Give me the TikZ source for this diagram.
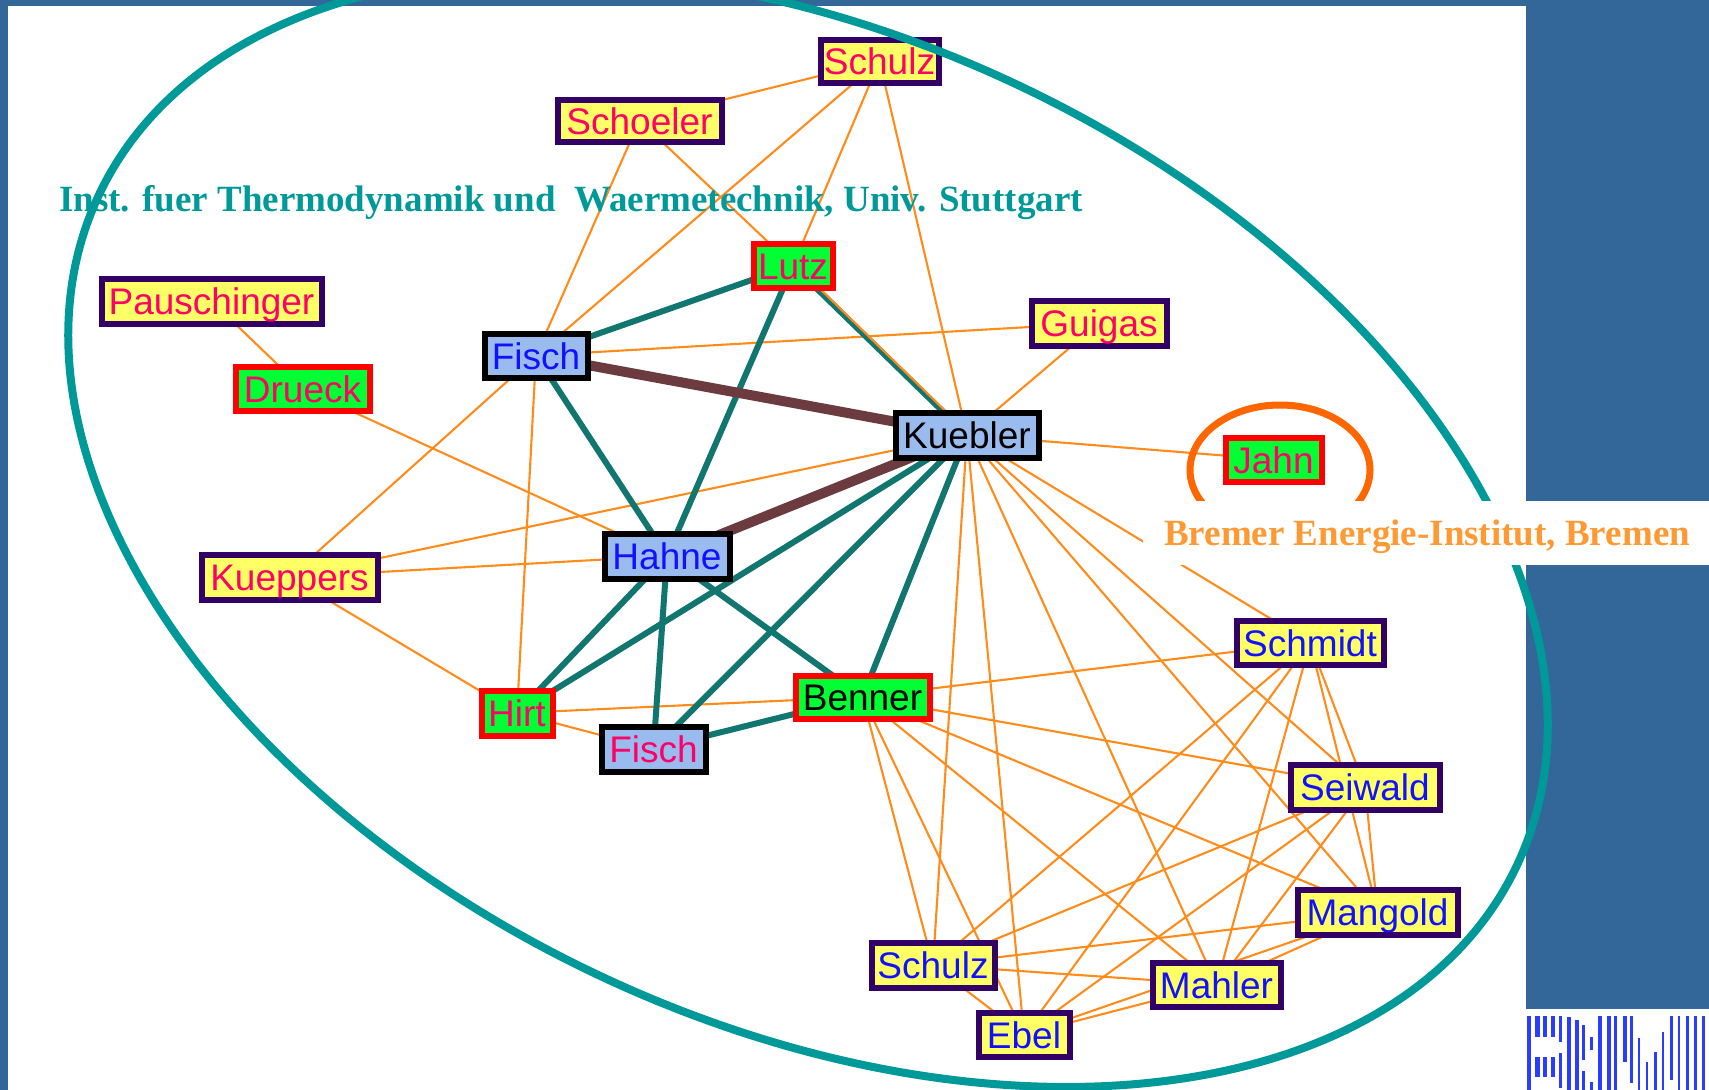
\documentclass[tikz,border=0pt]{standalone}
\usepackage{fontspec}
\setmainfont{Liberation Serif}
\setsansfont{Liberation Sans}
\usetikzlibrary{backgrounds}
\definecolor{bgblue}{HTML}{336699}
\definecolor{ringteal}{HTML}{009999}
\definecolor{edgeorange}{HTML}{FF8C1A}
\definecolor{edgeteal}{HTML}{11766F}
\definecolor{edgebrown}{HTML}{6B3B3F}
\definecolor{ringorange}{HTML}{FF6600}
\definecolor{labelorange}{HTML}{FF9933}
\definecolor{nyellow}{HTML}{FFFF66}
\definecolor{ngreen}{HTML}{00FF33}
\definecolor{nblue}{HTML}{99BBEE}
\definecolor{npurple}{HTML}{330066}
\definecolor{tmag}{HTML}{FF0066}
\definecolor{tblue}{HTML}{1111FF}
\definecolor{logoblue}{HTML}{2A3CFF}
\tikzset{
  person/.style={draw,line width=6pt,inner sep=0pt,font=\sffamily\fontsize{37}{37}\selectfont,anchor=center,text height=27pt,text depth=0pt},
  yb/.style={person,fill=nyellow,draw=npurple,text=tblue},
  ym/.style={person,fill=nyellow,draw=npurple,text=tmag},
  gm/.style={person,fill=ngreen,draw=red,text=tmag},
  gk/.style={person,fill=ngreen,draw=red,text=black},
  bb/.style={person,fill=nblue,draw=black,text=tblue},
  bk/.style={person,fill=nblue,draw=black,text=black},
  bm/.style={person,fill=nblue,draw=black,text=tmag},
  thin edge/.style={draw=edgeorange,line width=2.1pt},
  strong edge/.style={draw=edgeteal,line width=6pt},
  heavy edge/.style={draw=edgebrown,line width=10pt},
  groupring/.style={draw=ringteal,line width=8pt},
  jahnring/.style={draw=ringorange,line width=7pt},
  grouplabel/.style={font=\rmfamily\bfseries\fontsize{37}{37}\selectfont,inner sep=0pt}
}
\newcommand{\pnode}[7]{\node[#1,minimum width=#5pt-#4pt-3pt,minimum height=#7pt-#6pt-3pt] (#2) at ({(#4+#5)/2},{-(#6+#7)/2}) {#3};}
\begin{document}
\begin{tikzpicture}[x=1pt,y=1pt]
\useasboundingbox (0,0) rectangle (1709,-1090);
\clip (0,0) rectangle (1709,-1090);
% nodes
\pnode{ym}{schulzA}{Schulz}{819}{940}{38}{84}
\pnode{ym}{schoeler}{Schoeler}{556}{723}{98}{143}
\pnode{gm}{lutz}{Lutz}{752}{834}{242}{289}
\pnode{ym}{pausch}{Pauschinger}{100}{323}{277}{325}
\pnode{gm}{drueck}{Drueck}{234}{371}{365}{412}
\pnode{bb}{fischA}{Fisch}{483}{589}{332}{379}
\pnode{ym}{guigas}{Guigas}{1030}{1168}{299}{347}
\pnode{bk}{kuebler}{Kuebler}{894}{1040}{411}{459}
\pnode{gm}{jahn}{Jahn}{1224}{1323}{436}{483}
\pnode{bb}{hahne}{Hahne}{603}{731}{532}{580}
\pnode{ym}{kueppers}{Kueppers}{200}{379}{553}{601}
\pnode{yb}{schmidt}{Schmidt}{1235}{1385}{619}{666}
\pnode{gk}{benner}{Benner}{794}{931}{674}{720}
\pnode{gm}{hirt}{Hirt}{480}{554}{689}{737}
\pnode{bm}{fischB}{Fisch}{600}{707}{725}{773}
\pnode{yb}{seiwald}{Seiwald}{1289}{1441}{763}{811}
\pnode{yb}{mangold}{Mangold}{1296}{1459}{888}{936}
\pnode{yb}{mahler}{Mahler}{1151}{1282}{961}{1008}
\pnode{yb}{schulzB}{Schulz}{870}{996}{941}{989}
\pnode{yb}{ebel}{Ebel}{977}{1071}{1011}{1058}
\begin{scope}[on background layer]
  % page
  \fill[bgblue] (0,0) rectangle (1709,-1090);
  \fill[white] (8,-6) rectangle (1526,-1090);
  \fill[white] (1526,-1009) rectangle (1709,-1090);
  % logo
  \foreach \x/\w/\a/\b in {
    46.5/4/108/330,54.5/5/108/170,54.5/5/232/292,62.8/3.7/108/170,62.8/3.7/232/292,
    70.5/4.3/108/172,70.5/4.3/232/292,78.5/3.7/108/185,78.5/3.7/218/325,86.5/4.3/112/330,
    94.5/4.3/120/330,102/3/135/240,102/3/272/330,110/3/170/210,110/3/305/330,
    118/3.7/108/330,126.5/4.3/108/330,134.4/3/108/330,142.5/4.3/108/245,150.4/3/108/310,
    158/2.3/175/330,166/2.3/245/330,174.4/2.3/215/330,182/2/155/330,189.7/3/108/300,
    198/2.3/108/330,206.4/3/108/330,214.4/3/108/330,222.4/3/108/330}
    {\fill[logoblue] ({1480+\x},{-980-\a/3}) rectangle ({1480+\x+\w},{-980-\b/3});}
  % thin edges
  \foreach \a/\b in {schulzA/schoeler,schulzA/fischA,schulzA/lutz,schulzA/kuebler,
    schoeler/fischA,schoeler/lutz,pausch/drueck,drueck/hahne,fischA/guigas,guigas/kuebler,
    kuebler/jahn,fischA/kueppers,fischA/hirt,kuebler/kueppers,hahne/kueppers,kueppers/hirt,
    hirt/benner,hirt/fischB,kuebler/schmidt,kuebler/seiwald,kuebler/mangold,kuebler/mahler,
    kuebler/ebel,kuebler/schulzB,benner/schmidt,benner/seiwald,benner/mangold,benner/mahler,
    benner/ebel,benner/schulzB,schmidt/seiwald,schmidt/mangold,schmidt/mahler,schmidt/schulzB,
    schmidt/ebel,seiwald/mangold,seiwald/mahler,seiwald/schulzB,seiwald/ebel,mangold/schulzB,
    mangold/ebel,mangold/mahler,mahler/schulzB,mahler/ebel,schulzB/ebel}
    {\draw[thin edge] (\a.center) -- (\b.center);}
  % strong edges
  \foreach \a/\b in {fischA/lutz,fischA/hahne,lutz/kuebler,lutz/hahne,kuebler/hirt,kuebler/fischB,
    kuebler/benner,hahne/hirt,hahne/fischB,hahne/benner,fischB/benner}
    {\draw[strong edge] (\a.center) -- (\b.center);}
  \draw[thin edge] ([xshift=3pt]lutz.center) -- ([xshift=3pt]kuebler.center);
  \draw[heavy edge] (fischA.center) -- (kuebler.center);
  \draw[heavy edge] (hahne.center) -- (kuebler.center);
\end{scope}
% rings and labels
\draw[groupring] (808,-530) ellipse[x radius=784.3,y radius=492,rotate=-25.3];
\draw[jahnring] (1280,-470) ellipse[x radius=90,y radius=65];
\fill[white] (1143,-501) rectangle (1709,-565);
\node[grouplabel,text=ringteal,anchor=base west] (ifl) at (59,-211) {Inst. fuer Thermodynamik und\ \ Waermetechnik, Univ. Stuttgart};
\node[grouplabel,text=labelorange,anchor=base west] (bel) at (1164,-545) {Bremer Energie-Institut, Bremen};
\end{tikzpicture}
\end{document}
